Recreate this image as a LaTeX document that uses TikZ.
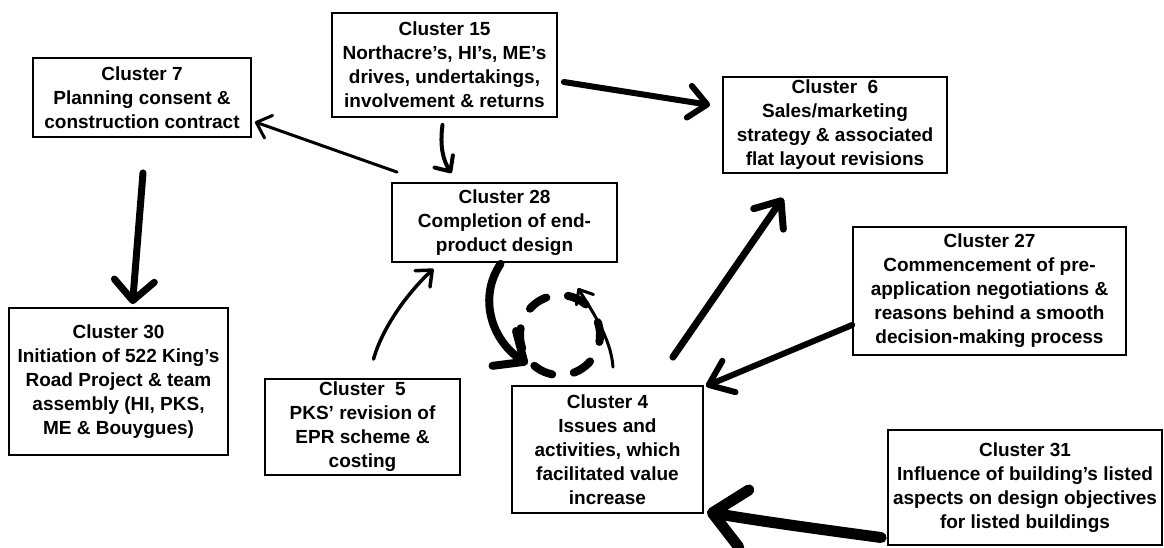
\documentclass[tikz,border=0pt]{standalone}
\usepackage{fontspec}
\setmainfont{Liberation Sans}
\usetikzlibrary{arrows.meta,calc}
\tikzset{
  box/.style={draw=black, line width=1.8pt, align=center, inner sep=0pt,
    font=\bfseries\fontsize{19}{24}\selectfont},
  link/.style={draw=black, line width=#1, line cap=round, line join=round},
  barb/.style 2 args={-{Straight Barb[round, length=#1, width=#2]}},
  loopring/.style={draw=black, line width=8pt, line cap=round,
    dash pattern=on 20pt off 21.9pt, dash phase=7pt},
}
\begin{document}
\begin{tikzpicture}[x=1pt, y=-1pt]
\useasboundingbox (0,0) rectangle (1164,547);

% cluster boxes
\node[box, minimum width=218pt, minimum height=79pt] (c7) at (142,97.5)
  {Cluster 7\\Planning consent \&\\construction contract};
\node[box, minimum width=225pt, minimum height=104pt] (c15) at (444.5,65)
  {Cluster 15\\Northacre’s, HI’s, ME’s\\drives, undertakings,\\involvement \& returns};
\node[box, minimum width=224pt, minimum height=96pt] (c6) at (835,125)
  {Cluster\ \ 6\\Sales/marketing\\strategy \& associated\\flat layout revisions};
\node[box, minimum width=225pt, minimum height=79pt] (c28) at (504.5,222.5)
  {Cluster 28\\Completion of end-\\product design};
\node[box, minimum width=273pt, minimum height=128pt] (c27) at (989.5,291)
  {Cluster 27\\Commencement of pre-\\application negotiations \&\\reasons behind a smooth\\decision-making process};
\node[box, minimum width=219pt, minimum height=147pt] (c30) at (118.5,381.5)
  {Cluster 30\\Initiation of 522 King’s\\Road Project \& team\\assembly (HI, PKS,\\ME \& Bouygues)};
\node[box, minimum width=195pt, minimum height=96pt] (c5) at (362.5,427)
  {Cluster\ \ 5\\PKS’ revision of\\EPR scheme \&\\costing};
\node[box, minimum width=191pt, minimum height=127pt] (c4) at (607.5,449.5)
  {Cluster 4\\Issues and\\activities, which\\facilitated value\\increase};
\node[box, minimum width=274pt, minimum height=115pt] (c31) at (1025,487.5)
  {Cluster 31\\Influence of building’s listed\\aspects on design objectives\\for listed buildings};

% connectors
\draw[link=6pt, barb={18pt}{32pt}]
  ($(c15.east)+(6,17)$) -- ($(c6.west)+(-12,-20)$);
\draw[link=3pt, barb={13pt}{24pt}]
  ($(c28.north west)+(6,-10)$) -- ($(c7.south east)+(3,-16)$);
\draw[link=4pt, barb={12pt}{22pt}]
  ($(c15.south)+(-2,7)$) .. controls +(-3,22) and +(-8,-12) .. ($(c28.north)+(-53,-9)$);
\draw[link=7pt, barb={20pt}{40pt}]
  ($(c7.south)+(1,35)$) -- ($(c30.north)+(14,-3)$);
\draw[link=3.5pt, barb={13pt}{22pt}]
  ($(c5.north)+(11,-19)$) .. controls +(10,-35) and +(-22,20) .. ($(c28.south)+(-71,6)$);
\draw[link=8pt, barb={24pt}{42pt}]
  ($(c28.south)+(-4,1)$) .. controls +(-22,33) and +(-37,-25) .. ($(c4.north)+(-80,-21)$);

% dashed loop on cluster 4
\coordinate (loop) at ($(c4.north)+(-47.5,-50)$);
\draw[loopring] (loop) circle[radius=40pt];
\draw[link=3pt, barb={12pt}{20pt}]
  ($(loop)+(53,32)$) .. controls +(-2,-30) and +(12,20) .. ($(loop)+(18,-47)$);

\draw[link=7pt, barb={22pt}{36pt}]
  ($(c4.north east)+(-31,-28)$) -- ($(c6.south)+(-52,24)$);
\draw[link=6pt, barb={22pt}{34pt}]
  ($(c27.west)+(0,34)$) -- ($(c4.north east)+(2,1)$);
\draw[link=11pt, barb={32pt}{58pt}]
  ($(c31.west)+(-6,50)$) .. controls +(-60,-8) and +(45,8) .. ($(c4.south east)+(3,-2)$);
\end{tikzpicture}
\end{document}
